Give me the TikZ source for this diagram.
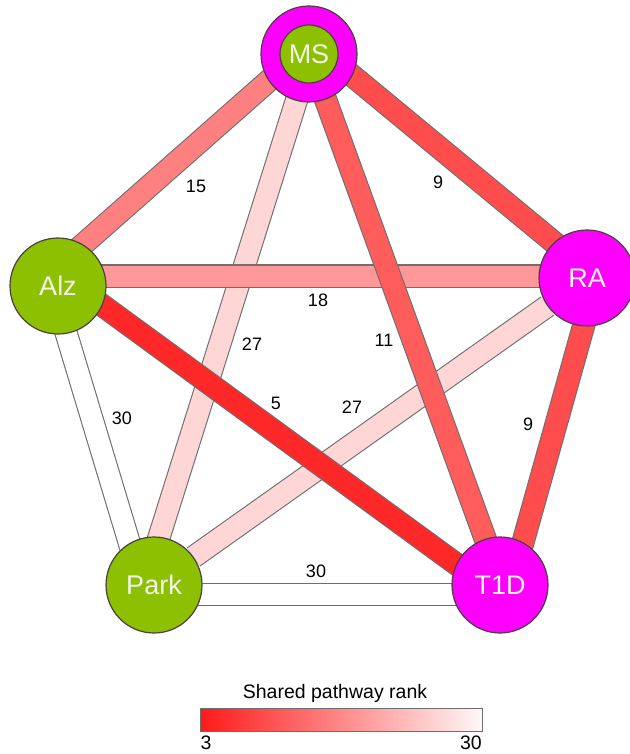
\documentclass[tikz,border=0pt]{standalone}
\usepackage{fontspec}
\setmainfont{Liberation Sans}
\usetikzlibrary{calc}
\pgfdeclarelayer{bg}
\pgfsetlayers{bg,main}
\definecolor{nodegreen}{HTML}{8CC000}
\definecolor{nodemag}{HTML}{FF00FF}
\definecolor{nodeline}{HTML}{4A4040}
\definecolor{bandline}{HTML}{6E6E6E}
\definecolor{txtlight}{HTML}{F4F6EC}
\definecolor{rk5}{HTML}{FF2828}
\definecolor{rk9}{HTML}{FF4D4D}
\definecolor{rk11}{HTML}{FF5C5C}
\definecolor{rk15}{HTML}{FF8080}
\definecolor{rk18}{HTML}{FF9999}
\definecolor{rk27}{HTML}{FFD6D6}
\definecolor{rk30}{HTML}{FFFFFF}
\definecolor{legred}{HTML}{FF1A1A}
\definecolor{legwhite}{HTML}{FFF8F8}
\begin{document}
\begin{tikzpicture}[x=1pt,y=-1pt,
  disease/.style={circle, draw=nodeline, line width=1.2pt, minimum size=96pt, inner sep=0pt,
    text=txtlight, font=\fontsize{27}{27}\selectfont},
  innerdisease/.style={circle, draw=nodeline, line width=1.2pt, minimum size=58pt, inner sep=0pt,
    text=txtlight, font=\fontsize{27}{27}\selectfont, fill=nodegreen},
  band/.style={draw=bandline, line width=1.1pt, double distance=21pt, double=#1},
  rank/.style={font=\fontsize{18}{18}\selectfont, inner sep=0pt, text=black},
  legendtxt/.style={font=\fontsize{19.5}{19.5}\selectfont, inner sep=0pt, text=black}]
\useasboundingbox (0,0) rectangle (629,754);

% nodes
\node[disease, fill=nodemag] (MSo) at (309,54) {};
\node[innerdisease] (MS) at (309,54) {MS};
\node[disease, fill=nodegreen] (Alz) at (58,286) {Alz};
\node[disease, fill=nodemag] (RA) at (587,278) {RA};
\node[disease, fill=nodegreen] (Park) at (154,585) {Park};
\node[disease, fill=nodemag] (T1D) at (500,585) {T1D};

% bands (drawn under the nodes), lightest first
\begin{pgfonlayer}{bg}
\fill[white] (0,0) rectangle (629,754);
\draw[band=rk30] ($(Alz)+(-6,0)$) -- ($(Park)+(-12,0)$);
\draw[band=rk30] ($(Park)+(0,9.5)$) -- ($(T1D)+(0,9.5)$);
\draw[band=rk27] ($(MS)+(2,0)$) -- ($(Park)+(-10,0)$);
\draw[band=rk27] (RA) -- (Park);
\draw[band=rk18] ($(Alz)+(0,-10)$) -- ($(RA)+(0,-2)$);
\draw[band=rk15] ($(MS)+(-10,0)$) -- ($(Alz)+(-22,0)$);
\draw[band=rk11] (MS) -- ($(T1D)+(2,0)$);
\draw[band=rk9] ($(MS)+(17,0)$) -- ($(RA)+(10,0)$);
\draw[band=rk9] ($(RA)+(10,0)$) -- ($(T1D)+(11,0)$);
\draw[band=rk5] ($(Alz)+(0,-13)$) -- ($(T1D)+(0,11)$);
\end{pgfonlayer}

% rank labels
\node[rank] (l15) at (196,186) {15};
\node[rank] (l9a) at (438,182) {9};
\node[rank] (l18) at (318,300) {18};
\node[rank] (l27a) at (252,344) {27};
\node[rank] (l11) at (384,340) {11};
\node[rank] (l5) at (276,403) {5};
\node[rank] (l27b) at (352,407) {27};
\node[rank] (l30a) at (122,418) {30};
\node[rank] (l9b) at (528,424) {9};
\node[rank] (l30b) at (316,571) {30};

% legend
\node[legendtxt, anchor=base] (legtitle) at (335,698) {Shared pathway rank};
\shade[left color=legred, right color=legwhite, draw=bandline, line width=1pt] (200.5,708) rectangle (482,731);
\coordinate (barL) at (200.5,731);
\coordinate (barR) at (482,731);
\node[legendtxt, anchor=north west] (lmin) at ($(barL)+(0,5)$) {3};
\node[legendtxt, anchor=north east] (lmax) at ($(barR)+(0,5)$) {30};
\end{tikzpicture}
\end{document}
